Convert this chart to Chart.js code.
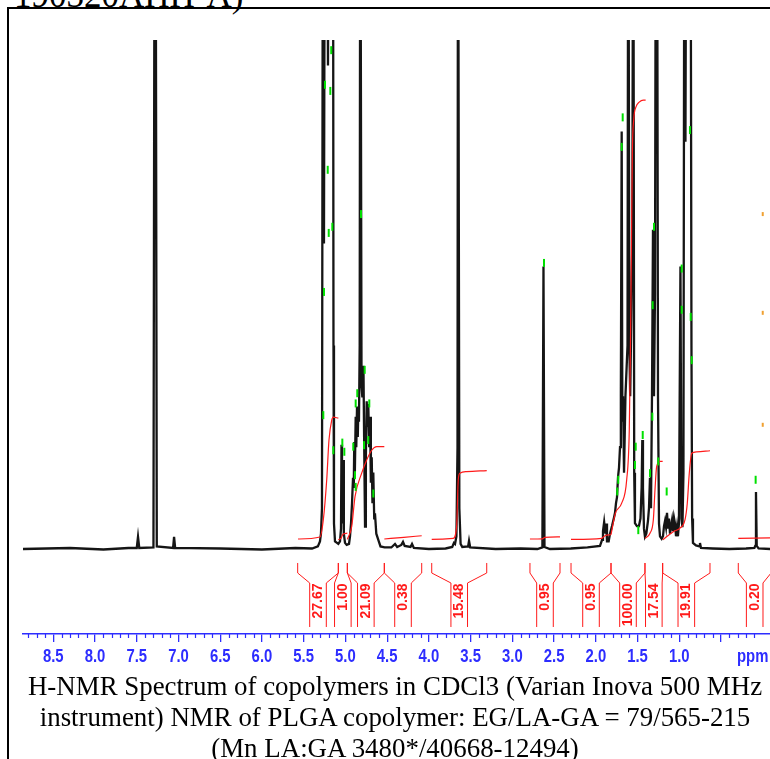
<!DOCTYPE html>
<html>
<head>
<meta charset="utf-8">
<script src="https://cdn.jsdelivr.net/npm/chart.js@4.4.1/dist/chart.umd.min.js"></script>
<style>
html, body { margin: 0; padding: 0; background: #fff; overflow: hidden; }
#wrap { position: relative; width: 770px; height: 759px; overflow: hidden; }
#frame { position: absolute; left: 7px; top: 7px; width: 800px; height: 800px; border-left: 2px solid #000; border-top: 2px solid #000; }
#title { position: absolute; left: 14px; top: -22px; font: 35px "Liberation Serif", "Times New Roman", serif; line-height: 35px; white-space: nowrap; }
#caption { position: absolute; left: 0; top: 671px; width: 790px; text-align: center; font: 26.9px "Liberation Serif", "Times New Roman", serif; line-height: 31px; white-space: nowrap; }
canvas { position: absolute; left: 0; top: 0; }
</style>
</head>
<body>
<div id="wrap">
  <div id="frame"></div>
  <div id="title">190320AHH-A)</div>
  <canvas id="nmr" width="770" height="759"></canvas>
  <div id="caption">H-NMR Spectrum of copolymers in CDCl3 (Varian Inova 500 MHz<br>instrument) NMR of PLGA copolymer: EG/LA-GA = 79/565-215<br>(Mn LA:GA 3480*/40668-12494)</div>
</div>
<script>
// axis ticks (ppm); 0.5 carries no number, the unit sits there instead
const tickValues = [8.5, 8.0, 7.5, 7.0, 6.5, 6.0, 5.5, 5.0, 4.5, 4.0, 3.5, 3.0, 2.5, 2.0, 1.5, 1.0, 0.5];
const tickLabels = ['8.5', '8.0', '7.5', '7.0', '6.5', '6.0', '5.5', '5.0', '4.5', '4.0', '3.5', '3.0', '2.5', '2.0', '1.5', '1.0', ''];

// spectrum: [ppm, intensity]; values above 100 run off the top
const spectrum = [
    [8.87, 0], [8.3, 0.2], [7.9, -0.1], [7.6, 0.2],
    [7.50, 0.2], [7.485, 2.4], [7.47, 0.2],
    [7.30, 0.3], [7.285, 150], [7.275, 150], [7.26, 0.5],
    [7.065, 0.2], [7.053, 2.4], [7.04, 0.2],
    [6.5, 0.1], [6.0, -0.1], [5.6, 0.2], [5.4, 0.1], [5.33, 0.5], [5.305, 1.5], [5.293, 3], [5.281, 8],
    [5.269, 150], [5.257, 60], [5.245, 150], [5.233, 110], [5.221, 150], [5.209, 95], [5.197, 150],
    [5.185, 120], [5.173, 150], [5.161, 100], [5.149, 150], [5.143, 40], [5.137, 5], [5.125, 1.5],
    [5.101, 1.2], [5.085, 1.0], [5.065, 1.5], [5.053, 4], [5.047, 20.5], [5.041, 5], [5.033, 8],
    [5.027, 17.5], [5.019, 3], [5.005, 1.2], [4.985, 0.8],
    [4.957, 1.0], [4.945, 2.5], [4.933, 5], [4.921, 9], [4.909, 14], [4.900, 12], [4.894, 21],
    [4.888, 14], [4.877, 26], [4.870, 20], [4.861, 28], [4.852, 22], [4.846, 27], [4.838, 25],
    [4.829, 40], [4.822, 150], [4.814, 150], [4.807, 32], [4.798, 30], [4.791, 35], [4.784, 36],
    [4.776, 22], [4.765, 4.4], [4.755, 18], [4.745, 29], [4.735, 24], [4.726, 28.5], [4.715, 20],
    [4.705, 26], [4.695, 13], [4.685, 18], [4.676, 9], [4.666, 15], [4.655, 6], [4.646, 7],
    [4.63, 3], [4.606, 1.8], [4.58, 0.5], [4.53, 0.3],
    [4.45, 0.3], [4.406, 1.0], [4.38, 0.4], [4.33, 0.8], [4.31, 1.4], [4.29, 0.6], [4.22, 0.4],
    [4.202, 1.0], [4.18, 0.2], [4.0, 0], [3.80, 0.1], [3.72, 0.4], [3.70, 1.2], [3.687, 1.0],
    [3.67, 2.5], [3.657, 20], [3.651, 150], [3.645, 150], [3.635, 8], [3.62, 1], [3.6, 0.4],
    [3.53, 0.5], [3.519, 1.6], [3.505, 0.3], [3.2, 0], [2.9, 0.1], [2.7, 0],
    [2.64, 0.3], [2.627, 55.5], [2.615, 0.4], [2.55, 0], [2.3, 0.1], [2.1, 0.3],
    [1.95, 0.6], [1.925, 1.8], [1.914, 3.5], [1.90, 5.3], [1.885, 3], [1.875, 5.0], [1.866, 1.5],
    [1.846, 1.5], [1.830, 3.0], [1.806, 4.5], [1.782, 6.2], [1.770, 7.1], [1.758, 9],
    [1.746, 10.2], [1.734, 14.1], [1.722, 16], [1.710, 20], [1.700, 30], [1.690, 82],
    [1.682, 25], [1.674, 30], [1.662, 15], [1.645, 30], [1.62, 40], [1.611, 150], [1.598, 40],
    [1.588, 30], [1.575, 45], [1.563, 60], [1.551, 150], [1.540, 15], [1.531, 5.1],
    [1.507, 4.5], [1.483, 4.5], [1.465, 6], [1.451, 12], [1.443, 21.4], [1.435, 12],
    [1.423, 4], [1.411, 2.4], [1.395, 3], [1.375, 5.5], [1.363, 8], [1.351, 14], [1.339, 8],
    [1.327, 30], [1.315, 62.7], [1.303, 30], [1.291, 50], [1.279, 150], [1.267, 150],
    [1.255, 30], [1.243, 5], [1.231, 2.5], [1.211, 2.0], [1.195, 2.5], [1.183, 4.5],
    [1.171, 5.5], [1.159, 4.3], [1.147, 7.1], [1.135, 4], [1.123, 6], [1.111, 3],
    [1.099, 4.5], [1.087, 5.7], [1.075, 3.5], [1.063, 6.1], [1.051, 5.0], [1.039, 2.5],
    [1.027, 4.3], [1.016, 2.5], [1.004, 5], [0.986, 55.5], [0.974, 6], [0.962, 4.3],
    [0.950, 15], [0.938, 150], [0.926, 80], [0.914, 150], [0.902, 100], [0.890, 150],
    [0.878, 120], [0.866, 150], [0.854, 40], [0.846, 6], [0.836, 1.2], [0.80, 0.7],
    [0.760, 0.5], [0.752, 1.2], [0.74, 0.2], [0.6, 0.1], [0.4, 0], [0.2, 0.1], [0.1, 0.2],
    [0.090, 0.6], [0.081, 11.2], [0.072, 0.6], [0.05, 0.1], [-0.09, 0]
];

// integration regions [from ppm, to ppm] and their values
const integralRegions = [
    [5.572, 5.085], [5.085, 4.977], [4.977, 4.534], [4.534, 4.086], [3.966, 3.307],
    [2.789, 2.429], [2.297, 1.818], [1.818, 1.411], [1.411, 1.199], [1.199, 0.632], [0.293, -0.10]
];
const integralValues = ['27.67', '1.00', '21.09', '0.38', '15.48', '0.95', '0.95', '100.00', '17.54', '19.91', '0.20'];

// running integral curves [ppm, level]
const integralCurves = [
    [[5.568, 1.96], [5.305, 2.36], [5.265, 5.7], [5.224, 13.6], [5.197, 21.4], [5.164, 25.3], [5.145, 25.9], [5.085, 25.7]],
    [[5.085, 1.8], [5.05, 2.2], [5.03, 2.9], [4.977, 3.1]],
    [[4.977, 1.9], [4.925, 4.4], [4.885, 10.3], [4.805, 14.9], [4.745, 17.5], [4.685, 19.4], [4.625, 20.1], [4.534, 20.1]],
    [[4.534, 1.96], [4.30, 2.3], [4.086, 2.6]],
    [[3.966, 1.9], [3.708, 2.1], [3.668, 4.4], [3.648, 13.6], [3.628, 14.9], [3.548, 15.2], [3.307, 15.4]],
    [[2.789, 1.96], [2.64, 2.0], [2.61, 2.3], [2.429, 2.4]],
    [[2.297, 1.9], [1.93, 2.1], [1.89, 2.6], [1.818, 2.8]],
    [[1.818, 2.8], [1.766, 7.0], [1.690, 9.0], [1.630, 13.6], [1.599, 23.4], [1.585, 40], [1.573, 60],
     [1.562, 78], [1.545, 84.5], [1.52, 86.8], [1.48, 87.8], [1.43, 88.2], [1.403, 88.2]],
    [[1.411, 2.1], [1.351, 3.1], [1.311, 5.7], [1.291, 11.6], [1.271, 16.2], [1.231, 17.2], [1.199, 17.2]],
    [[1.199, 1.8], [1.072, 3.4], [0.992, 4.1], [0.932, 5.7], [0.904, 9.0], [0.880, 14.9], [0.851, 18.8], [0.792, 19.1], [0.632, 19.3]],
    [[0.293, 2.1], [-0.09, 2.2]]
];

// peak-pick markers [ppm, level]
const peakMarks = [
    [5.170, 98.0], [5.245, 91.2], [5.181, 90.0], [5.212, 74.5], [5.200, 62.1], [5.157, 63.3],
    [5.257, 50.5], [4.813, 65.8], [4.769, 35.2], [5.265, 26.3], [5.145, 19.4], [5.037, 20.9],
    [5.013, 19.1], [4.906, 20.1], [4.877, 28.6], [4.858, 30.6], [4.714, 28.6], [4.726, 21.4],
    [4.777, 20.4], [4.885, 14.5], [4.877, 12.2], [4.666, 10.9], [2.621, 56.2],
    [1.678, 84.8], [1.690, 79.0], [1.303, 63.3], [0.872, 82.3], [0.971, 55.1], [1.319, 47.9],
    [0.971, 47.0], [0.863, 45.6], [0.851, 37.1], [1.323, 26.0], [1.438, 22.4], [1.531, 16.5],
    [1.351, 14.9], [1.491, 3.7], [1.151, 11.3], [0.085, 13.6], [1.731, 13.6], [1.743, 11.3],
    [1.252, 17.2], [1.522, 20.1]
];
const sideMarks = [[-0.0, 65.8], [-0.0, 46.4], [-0.0, 24.4]];

const BLUE = '#2d2dff';
const RED = '#ff1a1a';
const AXIS_FONT = 'bold 18.6px "Liberation Sans", Arial';

const extras = {
    id: 'extras',
    afterDraw(chart) {
        const { ctx, scales: { x, y }, chartArea } = chart;
        const base = y.getPixelForValue(0);
        ctx.save();

        // minor ticks every 0.1 ppm
        ctx.strokeStyle = BLUE;
        ctx.lineWidth = 1.2;
        ctx.beginPath();
        for (let i = 1; i <= 88; i++) {
            if (i % 5 === 0) continue;
            const px = Math.round(x.getPixelForValue(i / 10)) + 0.5;
            if (px < chartArea.left || px > chartArea.right) continue;
            ctx.moveTo(px, chartArea.bottom);
            ctx.lineTo(px, chartArea.bottom + 4);
        }
        ctx.stroke();

        // tick numbers in a narrow bold face, plus the unit
        ctx.fillStyle = BLUE;
        ctx.font = AXIS_FONT;
        ctx.textBaseline = 'alphabetic';
        const squeeze = 0.8;
        const ly = chartArea.bottom + 27.5;
        tickValues.forEach((v, i) => {
            ctx.save();
            ctx.translate(x.getPixelForValue(v), ly);
            ctx.scale(squeeze, 1);
            ctx.textAlign = 'center';
            ctx.fillText(tickLabels[i], 0, 0);
            ctx.restore();
        });
        ctx.save();
        ctx.translate(737, ly);
        ctx.scale(squeeze, 1);
        ctx.textAlign = 'left';
        ctx.fillText('ppm', 0, 0);
        ctx.restore();

        // integral brackets and values
        ctx.strokeStyle = RED;
        ctx.fillStyle = RED;
        ctx.lineWidth = 1;
        ctx.font = 'bold 14px "Liberation Sans", Arial';
        integralRegions.forEach(([p1, p2], i) => {
            const xl = x.getPixelForValue(p1);
            const xr = x.getPixelForValue(p2);
            const xc = (xl + xr) / 2;
            const w = 8.3;
            ctx.beginPath();
            ctx.moveTo(xl, base + 14);
            ctx.lineTo(xl, base + 24);
            ctx.lineTo(xc - w, base + 34);
            ctx.lineTo(xc - w, base + 78);
            ctx.moveTo(xr, base + 14);
            ctx.lineTo(xr, base + 24);
            ctx.lineTo(xc + w, base + 34);
            ctx.lineTo(xc + w, base + 78);
            ctx.stroke();

            ctx.save();
            ctx.translate(xc, base + 34.5);
            ctx.rotate(-Math.PI / 2);
            ctx.textAlign = 'right';
            ctx.textBaseline = 'middle';
            ctx.fillText(integralValues[i], 0, 0);
            ctx.restore();
        });
        ctx.restore();
    }
};

const toXY = pts => pts.map(([p, v]) => ({ x: p, y: v }));

const datasets = [
    {
        type: 'scatter',
        data: toXY(peakMarks),
        pointStyle: 'line',
        rotation: 90,
        pointRadius: 4,
        borderColor: '#00e000',
        borderWidth: 2,
        order: 0
    },
    {
        type: 'scatter',
        data: toXY(sideMarks),
        pointStyle: 'line',
        rotation: 90,
        pointRadius: 2,
        borderColor: '#f0a030',
        borderWidth: 2,
        order: 0
    },
    ...integralCurves.map(c => ({
        type: 'line',
        data: toXY(c),
        borderColor: RED,
        borderWidth: 1.2,
        pointRadius: 0,
        cubicInterpolationMode: 'monotone',
        order: 1
    })),
    {
        type: 'line',
        data: toXY(spectrum),
        borderColor: '#151515',
        borderWidth: 2.3,
        pointRadius: 0,
        tension: 0,
        order: 2
    }
];

new Chart(document.getElementById('nmr'), {
    type: 'line',
    data: { datasets },
    options: {
        responsive: false,
        animation: false,
        layout: { autoPadding: false, padding: { left: 23, right: 0, top: 40, bottom: 0 } },
        scales: {
            x: {
                type: 'linear',
                reverse: true,
                min: -0.087,
                max: 8.863,
                border: { color: BLUE, width: 1.5 },
                grid: { drawOnChartArea: false, drawTicks: true, tickLength: 8, color: BLUE, lineWidth: 1.3 },
                ticks: { display: false },
                afterBuildTicks: axis => { axis.ticks = tickValues.map(v => ({ value: v })); },
                afterFit: axis => {
                    axis.height = 125;
                    axis.paddingLeft = 0;
                    axis.paddingRight = 0;
                }
            },
            y: { display: false, min: -16.7, max: 100 }
        },
        plugins: {
            legend: { display: false },
            tooltip: { enabled: false }
        }
    },
    plugins: [extras]
});
</script>
</body>
</html>
